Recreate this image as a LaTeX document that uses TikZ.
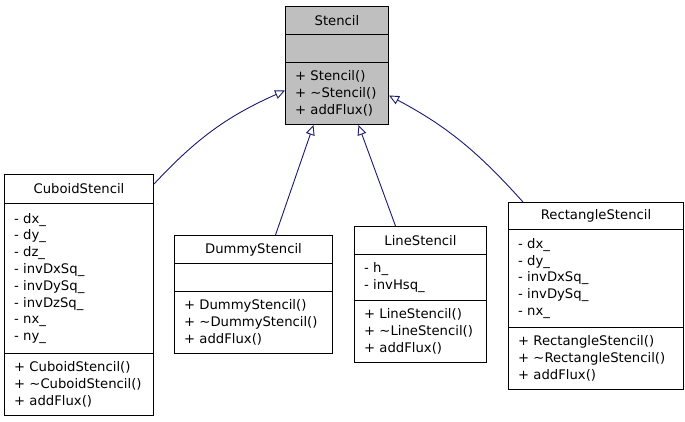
\documentclass[tikz,border=0pt]{standalone}
\usepackage{fontspec}
\setmainfont{DejaVu Sans}
\usetikzlibrary{arrows.meta}
\definecolor{edgeblue}{HTML}{191970}
\definecolor{basegray}{HTML}{BFBFBF}
\tikzset{
    every node/.style={draw, rectangle, anchor=north west, inner xsep=9.5pt, inner ysep=0pt,
        font=\fontsize{13.2}{16.8}\selectfont, line width=1pt}
}
\tikzset{
    part/.style 2 args={text width=#1, minimum height=#2, align=left},
    head/.style 2 args={text width=#1, minimum height=#2, align=center},
    inherit/.style={draw=edgeblue, line width=0.9pt, -{Triangle[open, length=10pt, width=9pt]}}
}

\begin{document}
\begin{tikzpicture}[x=1pt, y=-1pt]
    \useasboundingbox (0,0) rectangle (685,421);

    \node (stT) [head={84pt}{28pt}, fill=basegray] at (285,6) {Stencil};
    \node (stA) [part={84pt}{28pt}, fill=basegray] at (285,34) {};
    \node (stM) [part={84pt}{62pt}, fill=basegray] at (285,62) {+ Stencil()\\+ \textasciitilde Stencil()\\+ addFlux()};

    \node (cubT) [head={130pt}{29pt}] at (4,174) {CuboidStencil};
    \node (cubA) [part={130pt}{150pt}] at (4,203) {- dx\_\\- dy\_\\- dz\_\\- invDxSq\_\\- invDySq\_\\- invDzSq\_\\- nx\_\\- ny\_};
    \node (cubM) [part={130pt}{62pt}] at (4,353) {+ CuboidStencil()\\+ \textasciitilde CuboidStencil()\\+ addFlux()};

    \node (dumT) [head={139pt}{28pt}] at (174,235) {DummyStencil};
    \node (dumA) [part={139pt}{28pt}] at (174,263) {};
    \node (dumM) [part={139pt}{62pt}] at (174,291) {+ DummyStencil()\\+ \textasciitilde DummyStencil()\\+ addFlux()};

    \node (linT) [head={113pt}{28pt}] at (354,226) {LineStencil};
    \node (linA) [part={113pt}{46pt}] at (354,254) {- h\_\\- invHsq\_};
    \node (linM) [part={113pt}{62pt}] at (354,300) {+ LineStencil()\\+ \textasciitilde LineStencil()\\+ addFlux()};

    \node (recT) [head={156pt}{27pt}] at (508,202) {RectangleStencil};
    \node (recA) [part={156pt}{98pt}] at (508,229) {- dx\_\\- dy\_\\- invDxSq\_\\- invDySq\_\\- nx\_};
    \node (recM) [part={156pt}{62pt}] at (508,327) {+ RectangleStencil()\\+ \textasciitilde RectangleStencil()\\+ addFlux()};

    % inheritance
    \draw[inherit] ([yshift=5pt]cubT.east) to[out=47, in=204] ([yshift=3pt]stM.west);
    \draw[inherit] ([xshift=22pt]dumT.north) -- ([xshift=-23.5pt]stM.south);
    \draw[inherit] ([xshift=-25pt]linT.north) -- ([xshift=21.5pt]stM.south);
    \draw[inherit] ([xshift=15pt]recT.north west) to[out=132, in=-28] ([yshift=-2pt]stM.east);
\end{tikzpicture}
\end{document}
